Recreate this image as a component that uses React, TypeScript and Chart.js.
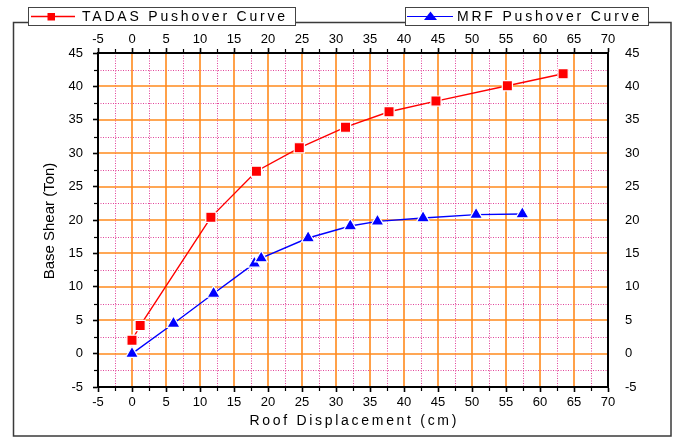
import React, { useEffect, useRef } from 'react';
import { Chart, registerables } from 'chart.js';

Chart.register(...registerables);

// ---- data ----
const tadasDisp = [0, 1.2, 11.6, 18.3, 24.6, 31.4, 37.8, 44.7, 55.2, 63.4];
const tadasShear = [2.0, 4.2, 20.4, 27.3, 30.8, 33.9, 36.2, 37.8, 40.1, 41.9];
const mrfDisp = [0, 6.1, 12.0, 18.0, 19.0, 25.9, 32.1, 36.1, 42.8, 50.6, 57.4];
const mrfShear = [0, 4.5, 9.0, 13.5, 14.3, 17.3, 19.1, 19.8, 20.3, 20.8, 20.9];

const xTickLabels = [-5, 0, 5, 10, 15, 20, 25, 30, 35, 40, 45, 50, 55, 60, 65, 70];
const yTickLabels = [-5, 0, 5, 10, 15, 20, 25, 30, 35, 40, 45];

const seriesNames = ['TADAS Pushover Curve', 'MRF Pushover Curve'];
const xTitle = 'Roof Displacement (cm)';
const yTitle = 'Base Shear (Ton)';

const FONT = '"Liberation Sans", Arial, Helvetica, sans-serif';

export default function App() {
  const ref = useRef<HTMLCanvasElement>(null);

  useEffect(() => {
    const canvas = ref.current;
    if (!canvas) return;

    const xMin = xTickLabels[0];
    const xMax = xTickLabels[xTickLabels.length - 1];
    const yMin = yTickLabels[0];
    const yMax = yTickLabels[yTickLabels.length - 1];

    const isMajor = (v: number, list: number[]) => list.indexOf(v) >= 0;
    const mids = (list: number[]) => list.slice(0, -1).map((v, i) => (v + list[i + 1]) / 2);

    const originPlugin = {
      id: 'originStyle',
      beforeDraw(chart: any) {
        const { ctx, chartArea: a, scales } = chart;
        const xs = scales.x;
        const ys = scales.y;
        ctx.save();
        ctx.fillStyle = '#ffffff';
        ctx.fillRect(0, 0, chart.width, chart.height);

        // minor pink dotted grid
        ctx.strokeStyle = '#E2449A';
        ctx.lineWidth = 1;
        ctx.setLineDash([1, 1.5]);
        mids(xTickLabels).forEach((v) => {
          const px = Math.round(xs.getPixelForValue(v)) + 0.5;
          ctx.beginPath();
          ctx.moveTo(px, a.top);
          ctx.lineTo(px, a.bottom);
          ctx.stroke();
        });
        mids(yTickLabels).forEach((v) => {
          const py = Math.round(ys.getPixelForValue(v)) + 0.5;
          ctx.beginPath();
          ctx.moveTo(a.left, py);
          ctx.lineTo(a.right, py);
          ctx.stroke();
        });

        // major orange grid
        ctx.setLineDash([]);
        ctx.strokeStyle = '#FF8A1C';
        ctx.lineWidth = 1.6;
        for (let i = 1; i < xTickLabels.length - 1; i++) {
          const px = Math.round(xs.getPixelForValue(xTickLabels[i]));
          ctx.beginPath();
          ctx.moveTo(px, a.top);
          ctx.lineTo(px, a.bottom);
          ctx.stroke();
        }
        for (let i = 1; i < yTickLabels.length - 1; i++) {
          const py = Math.round(ys.getPixelForValue(yTickLabels[i]));
          ctx.beginPath();
          ctx.moveTo(a.left, py);
          ctx.lineTo(a.right, py);
          ctx.stroke();
        }
        ctx.restore();
      },
      afterDraw(chart: any) {
        const { ctx, chartArea: a, scales } = chart;
        const xs = scales.x;
        const ys = scales.y;
        ctx.save();

        // short minor tick marks (outside)
        ctx.strokeStyle = '#000';
        ctx.lineWidth = 1.2;
        mids(xTickLabels).forEach((v) => {
          const px = Math.round(xs.getPixelForValue(v)) + 0.5;
          ctx.beginPath();
          ctx.moveTo(px, a.bottom);
          ctx.lineTo(px, a.bottom + 4);
          ctx.moveTo(px, a.top);
          ctx.lineTo(px, a.top - 4);
          ctx.stroke();
        });
        mids(yTickLabels).forEach((v) => {
          const py = Math.round(ys.getPixelForValue(v)) + 0.5;
          ctx.beginPath();
          ctx.moveTo(a.left, py);
          ctx.lineTo(a.left - 4, py);
          ctx.stroke();
        });

        // outer frame
        ctx.strokeStyle = '#3a3a3a';
        ctx.lineWidth = 1.5;
        ctx.strokeRect(13.5, 22.5, 657.5, 413.5);

        // legends
        const drawLegendBox = (x0: number, x1: number) => {
          ctx.fillStyle = '#ffffff';
          ctx.fillRect(x0, 7, x1 - x0, 18);
          ctx.strokeStyle = '#444444';
          ctx.lineWidth = 1;
          ctx.strokeRect(x0 + 0.5, 7.5, x1 - x0, 18);
        };
        const ly = 16.5;
        // TADAS
        drawLegendBox(28, 295);
        ctx.strokeStyle = '#FF0000';
        ctx.lineWidth = 1.3;
        ctx.beginPath();
        ctx.moveTo(31, ly);
        ctx.lineTo(75, ly);
        ctx.stroke();
        ctx.fillStyle = '#FF0000';
        ctx.fillRect(47.5, ly - 3.5, 7.5, 7.5);
        // MRF
        drawLegendBox(405, 648);
        ctx.strokeStyle = '#0000FF';
        ctx.beginPath();
        ctx.moveTo(407, ly);
        ctx.lineTo(453, ly);
        ctx.stroke();
        ctx.fillStyle = '#0000FF';
        ctx.beginPath();
        ctx.moveTo(430.5, ly - 5);
        ctx.lineTo(437, ly + 3.5);
        ctx.lineTo(424, ly + 3.5);
        ctx.closePath();
        ctx.fill();

        ctx.fillStyle = '#000000';
        ctx.font = `14px ${FONT}`;
        (ctx as any).letterSpacing = '2.8px';
        ctx.textAlign = 'left';
        ctx.textBaseline = 'middle';
        ctx.fillText(seriesNames[0], 82, ly + 0.5);
        ctx.fillText(seriesNames[1], 457, ly + 0.5);

        // x title
        (ctx as any).letterSpacing = '2.7px';
        ctx.textAlign = 'center';
        ctx.fillText(xTitle, (a.left + a.right) / 2 + 1.3, 421);

        // y title
        (ctx as any).letterSpacing = '0px';
        ctx.font = `15px ${FONT}`;
        ctx.translate(50, (a.top + a.bottom) / 2 + 1);
        ctx.rotate(-Math.PI / 2);
        ctx.fillText(yTitle, 0, 0);
        ctx.restore();
      },
    };

    const tickFont = { family: FONT, size: 13 };
    const xTickCb = (v: any) => (isMajor(Number(v), xTickLabels) ? String(v) : '');
    const yTickCb = (v: any) => (isMajor(Number(v), yTickLabels) ? String(v) : '');
    const tickCol = (list: number[]) => (c: any) => (c.tick && isMajor(c.tick.value, list) ? '#000' : 'rgba(0,0,0,0)');

    const chart = new Chart(canvas, {
      type: 'line',
      data: {
        datasets: [
          {
            label: seriesNames[0],
            data: tadasDisp.map((x, i) => ({ x, y: tadasShear[i] })),
            borderColor: '#FF0000',
            backgroundColor: '#FF0000',
            borderWidth: 1.4,
            pointStyle: 'rect',
            pointRadius: 7.2,
            pointBackgroundColor: '#FF0000',
            pointBorderColor: '#ffffff',
            pointBorderWidth: 1.2,
            tension: 0,
            fill: false,
          },
          {
            label: seriesNames[1],
            data: mrfDisp.map((x, i) => ({ x, y: mrfShear[i] })),
            borderColor: '#0000FF',
            backgroundColor: '#0000FF',
            borderWidth: 1.4,
            pointStyle: 'triangle',
            pointRadius: 7.5,
            pointBackgroundColor: '#0000FF',
            pointBorderColor: '#ffffff',
            pointBorderWidth: 1.2,
            tension: 0,
            fill: false,
          },
        ],
      },
      options: {
        animation: false,
        responsive: false,
        devicePixelRatio: 1,
        events: [],
        layout: { padding: 0 },
        plugins: { legend: { display: false }, tooltip: { enabled: false } },
        scales: {
          x: {
            type: 'linear',
            position: 'bottom',
            min: xMin,
            max: xMax,
            afterFit: (s: any) => { s.height = 50; },
            ticks: { stepSize: 2.5, autoSkip: false, maxRotation: 0, minRotation: 0, font: tickFont, color: '#000', padding: 3, callback: xTickCb },
            grid: { drawOnChartArea: false, drawTicks: true, tickLength: 5, tickColor: tickCol(xTickLabels), tickWidth: 1.6 },
            border: { display: true, color: '#000', width: 2 },
          },
          x2: {
            type: 'linear',
            position: 'top',
            min: xMin,
            max: xMax,
            afterFit: (s: any) => { s.height = 53; },
            ticks: { stepSize: 2.5, autoSkip: false, maxRotation: 0, minRotation: 0, font: tickFont, color: '#000', padding: 1, callback: xTickCb },
            grid: { drawOnChartArea: false, drawTicks: true, tickLength: 5, tickColor: tickCol(xTickLabels), tickWidth: 1.6 },
            border: { display: true, color: '#000', width: 2 },
          },
          y: {
            type: 'linear',
            position: 'left',
            min: yMin,
            max: yMax,
            afterFit: (s: any) => { s.width = 98; },
            ticks: { stepSize: 2.5, autoSkip: false, font: tickFont, color: '#000', padding: 10, callback: yTickCb },
            grid: { drawOnChartArea: false, drawTicks: true, tickLength: 5, tickColor: tickCol(yTickLabels), tickWidth: 1.6 },
            border: { display: true, color: '#000', width: 2 },
          },
          y2: {
            type: 'linear',
            position: 'right',
            min: yMin,
            max: yMax,
            afterFit: (s: any) => { s.width = 69; },
            ticks: { stepSize: 2.5, autoSkip: false, font: tickFont, color: '#000', padding: 9, callback: yTickCb },
            grid: { display: false, drawOnChartArea: false },
            border: { display: true, color: '#000', width: 2 },
          },
        },
      } as any,
      plugins: [originPlugin],
    });

    return () => chart.destroy();
  }, []);

  return (
    <div style={{ position: 'absolute', left: 0, top: 0, width: 677, height: 437, background: '#fff' }}>
      <canvas ref={ref} width={677} height={437} style={{ display: 'block', width: 677, height: 437 }} />
    </div>
  );
}
